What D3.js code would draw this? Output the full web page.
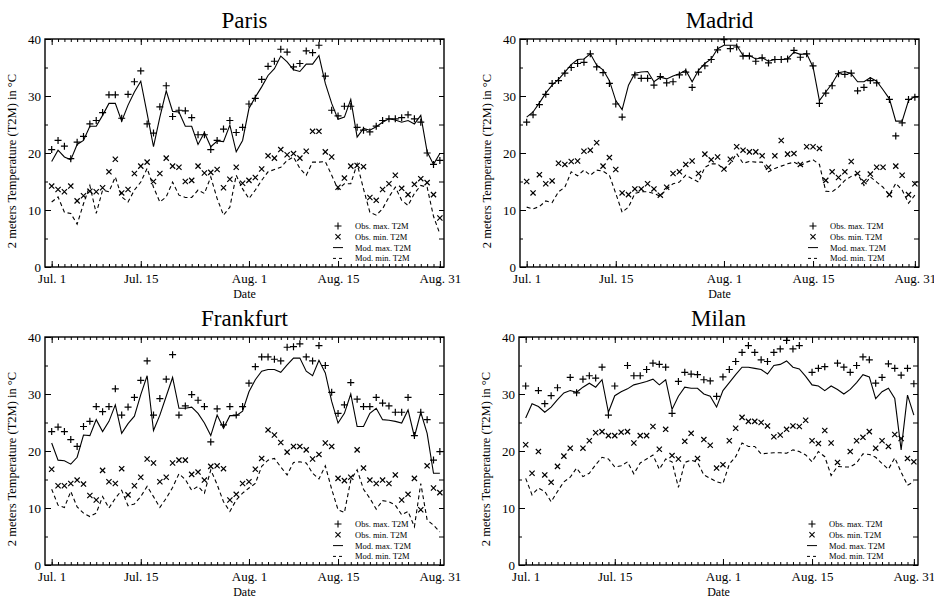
<!DOCTYPE html>
<html>
<head>
<meta charset="utf-8">
<script src="https://cdn.jsdelivr.net/npm/d3@7"></script>
<style>
  body { margin: 0; background: #fff; }
  text { font-family: "Liberation Serif", "Times New Roman", serif; fill: #000; }
</style>
</head>
<body>
<svg id="chart" width="934" height="598" font-family="Liberation Serif, serif"></svg>
<script>
// ---- data, one value per day, Jul 1 .. Aug 31 ----
const cities = ["Paris", "Madrid", "Frankfurt", "Milan"];
const tickDays = [0, 14, 31, 45, 61];
const tickLabels = ["Jul. 1", "Jul. 15", "Aug. 1", "Aug. 15", "Aug. 31"];
const tempTicks = [0, 10, 20, 30, 40];
const legendLabels = ["Obs. max. T2M", "Obs. min. T2M", "Mod. max. T2M", "Mod. min. T2M"];

const parisObsMax = [20.6, 22.2, 21.2, 19.0, 21.9, 22.9, 25.1, 25.7, 27.1, 30.2, 30.2, 26.1, 30.3, 32.5, 34.4, 25.1, 23.5, 28.1, 31.8, 26.4,
  27.5, 27.4, 26.2, 23.2, 23.2, 20.6, 22.2, 24.2, 25.7, 23.6, 24.5, 28.6, 29.6, 32.9, 35.2, 36.1, 38.2, 37.7, 35.1, 35.7,
  37.9, 37.6, 38.9, 33.5, 27.5, 26.5, 28.2, 28.2, 24.5, 24.0, 23.7, 24.7, 25.7, 26.0, 26.0, 26.2, 26.7, 26.0, 25.4, 20.0,
  18.0, 18.7];
const parisObsMin = [14.2, 13.6, 13.2, 14.2, 11.6, 12.5, 13.3, 13.2, 13.9, 16.7, 18.9, 13.0, 13.6, 16.4, 17.7, 18.4, 15.0, 16.4, 19.1, 17.7,
  17.5, 15.0, 15.2, 17.7, 16.5, 16.6, 17.1, 13.9, 15.4, 17.5, 14.7, 15.2, 15.7, 17.2, 19.5, 19.1, 20.6, 19.7, 19.9, 19.1,
  20.3, 23.8, 23.8, 20.2, 19.3, 14.0, 15.6, 17.7, 17.8, 17.6, 12.2, 11.7, 13.6, 14.6, 16.1, 13.8, 12.7, 14.5, 15.5, 14.8,
  12.7, 8.6];
const parisModMax = [18.5, 20.5, 19.3, 18.8, 21.5, 22.2, 24.7, 24.7, 26.6, 28.7, 28.7, 25.6, 28.4, 30.7, 32.6, 26.9, 21.1, 26.3, 30.9, 27.3,
  27.2, 24.7, 24.7, 21.5, 23.6, 21.1, 22.1, 22.0, 24.9, 20.2, 22.2, 27.8, 29.8, 31.6, 33.6, 34.8, 37.0, 36.0, 34.6, 34.3,
  35.6, 35.6, 37.1, 32.2, 28.7, 25.9, 26.3, 29.4, 22.8, 24.3, 24.0, 24.6, 25.4, 26.0, 25.8, 25.4, 25.7, 25.1, 26.6, 20.2,
  18.0, 19.9];
const parisModMin = [11.4, 12.3, 9.6, 9.4, 7.5, 11.1, 14.3, 9.4, 13.5, 13.2, 15.8, 12.3, 11.4, 13.5, 14.9, 17.3, 14.0, 11.4, 12.3, 14.9,
  12.6, 12.2, 12.2, 13.5, 12.9, 15.8, 12.0, 9.1, 10.5, 16.1, 13.7, 12.0, 13.5, 15.2, 16.7, 17.1, 17.5, 18.7, 19.3, 17.3,
  16.1, 18.4, 18.4, 18.5, 16.1, 13.6, 14.6, 14.6, 18.1, 13.7, 9.6, 9.1, 10.2, 12.3, 14.0, 11.7, 10.8, 12.9, 14.3, 14.0,
  8.9, 5.8];

const madridObsMax = [25.4, 26.7, 28.5, 30.3, 32.2, 32.7, 34.0, 35.0, 35.7, 35.9, 37.4, 35.1, 34.1, 32.2, 28.6, 26.3, null, 33.7, 33.1, 33.1,
  31.9, 33.4, 32.3, 32.5, 33.7, 34.2, 31.5, 34.2, 35.3, 36.4, 38.1, 39.9, 38.3, 38.6, 37.0, 37.0, 36.1, 36.7, 35.8, 36.4,
  36.4, 36.5, 38.0, 36.8, 37.4, 35.3, 28.7, 30.5, 31.8, 33.9, 33.8, 34.0, 30.9, 31.5, 32.7, 32.3, null, 29.4, 23.0, 25.3,
  29.4, 29.8];
const madridObsMin = [15.0, 13.0, 16.2, 14.6, 15.1, 18.2, 18.0, 18.5, 18.6, 20.3, 20.5, 21.8, 17.7, 19.2, 17.1, 13.0, 12.7, 13.7, 13.7, 14.6,
  13.7, 12.6, 14.0, 16.4, 16.7, 18.0, 18.6, 16.4, 19.8, 18.8, 19.3, 17.2, 18.9, 21.1, 20.5, 20.2, 20.2, 19.5, 17.5, 19.5,
  22.2, 19.8, 19.9, 18.0, 21.1, 21.1, 20.8, 15.2, 16.7, 15.7, 16.7, 18.5, 16.4, 15.0, 16.3, 17.5, 17.5, 12.7, 17.7, 16.1,
  12.7, 14.6];
const madridModMax = [26.3, 27.2, 28.8, 30.5, 31.9, 32.9, 34.2, 35.5, 36.4, 36.5, 37.4, 35.4, 34.6, 32.7, 29.2, 27.6, 31.9, 34.0, 34.2, 34.3,
  32.5, 33.3, 33.0, 33.5, 33.9, 34.5, 32.5, 34.5, 35.7, 36.5, 38.3, 38.9, 38.9, 38.9, 37.1, 37.1, 36.5, 36.7, 36.1, 36.4,
  36.4, 36.5, 37.7, 37.3, 37.4, 35.1, 29.2, 30.7, 32.2, 34.1, 34.3, 33.9, 32.5, 32.5, 33.2, 32.6, 31.1, 29.5, 25.6, 25.6,
  29.2, 29.9];
const madridModMin = [10.5, 10.2, 10.6, 11.6, 11.3, 13.2, 14.0, 16.7, 16.0, 17.0, 16.1, 17.0, 16.8, 16.1, 12.9, 9.6, 10.5, 12.9, 13.2, 13.2,
  12.9, 12.4, 13.7, 14.6, 14.9, 16.1, 15.5, 14.9, 17.5, 18.1, 18.1, 17.1, 18.2, 19.9, 18.2, 18.5, 18.4, 18.4, 16.7, 17.3,
  17.7, 18.1, 18.4, 17.8, 18.4, 18.8, 18.0, 13.3, 13.2, 14.0, 15.2, 15.9, 16.4, 14.3, 15.8, 14.9, 14.0, 12.6, 14.7, 13.5,
  11.2, 12.6];

const frankfurtObsMax = [23.4, 24.2, 23.4, 22.0, 20.8, 24.3, 25.2, 27.8, 26.9, 27.8, 30.9, 26.3, 27.7, 29.4, 32.4, 35.8, 26.3, 29.2, 32.6, 36.9,
  26.3, 27.9, 29.9, 28.9, 27.8, 21.6, 27.4, 24.6, 27.8, 26.3, 27.8, 31.9, 34.8, 36.5, 36.5, 36.1, 35.8, 38.2, 38.3, 38.8,
  36.5, 35.8, 38.5, 35.0, 30.3, 26.6, 28.1, 32.0, 29.1, 27.8, 27.8, 29.4, 28.4, 27.9, 26.8, 26.8, 29.4, 22.7, 26.8, 25.5,
  18.4, 19.9];
const frankfurtObsMin = [16.8, 13.9, 13.9, 14.3, 14.9, 14.2, 12.2, 11.4, 16.6, 14.6, 14.3, 16.9, 12.3, 13.9, 15.4, 18.6, 17.9, 14.6, 15.4, 17.9,
  18.4, 18.4, 15.9, 16.3, 14.9, 17.3, 17.4, 16.9, 11.4, 12.4, 14.3, 14.6, 16.8, 18.7, 23.7, 22.8, 21.5, 19.8, 20.8, 20.8,
  20.2, 18.6, 19.4, 21.4, 20.8, 15.2, 14.8, 15.4, 20.2, 17.0, 14.9, 14.3, 14.9, 14.3, 15.8, 11.4, 12.4, 15.2, 9.7, 17.4,
  13.5, 12.7];
const frankfurtModMax = [21.4, 18.4, 18.3, 17.7, 18.9, 22.8, 22.7, 25.5, 23.4, 25.2, 28.1, 23.1, 24.8, 26.1, 29.9, 33.2, 23.6, 26.3, 29.6, 32.9,
  27.5, 27.5, 27.7, 26.6, 24.9, 22.7, 26.3, 24.0, 26.2, 26.2, 27.0, 30.4, 32.5, 34.0, 34.3, 34.3, 33.8, 35.1, 36.3, 36.3,
  34.0, 33.2, 35.9, 33.7, 28.7, 24.9, 26.6, 30.0, 24.3, 24.3, 26.6, 27.5, 25.5, 25.4, 25.2, 24.9, 27.2, 22.5, 26.8, 23.1,
  16.1, 16.1];
const frankfurtModMin = [13.3, 10.5, 10.1, 12.9, 10.2, 9.1, 8.5, 9.1, 12.0, 10.0, 11.7, 13.1, 10.4, 10.7, 12.0, 13.8, 12.0, 10.1, 11.7, 13.6,
  16.0, 15.0, 13.1, 13.8, 12.6, 16.7, 14.1, 11.1, 9.4, 11.4, 12.6, 13.5, 14.3, 17.3, 18.4, 18.7, 17.2, 15.8, 18.0, 18.1,
  17.9, 16.1, 15.1, 17.4, 13.3, 9.7, 9.2, 14.9, 16.7, 13.3, 11.7, 9.8, 11.3, 11.1, 10.5, 8.8, 9.4, 6.7, 14.3, 7.9,
  7.0, 5.8];

const milanObsMax = [31.4, null, 30.6, 28.3, 29.7, 31.1, null, 32.9, 30.2, 32.6, 33.2, 32.8, 34.7, 26.3, 31.4, null, 35.0, 33.2, 33.2, 34.3,
  35.4, 35.2, 34.7, 26.6, 32.2, 33.8, 33.5, 33.4, 32.5, 32.3, 29.6, 33.0, 34.3, 35.7, 37.3, 38.5, 37.3, 36.0, 35.7, 37.3,
  37.9, 39.4, 37.9, 38.5, null, 33.8, 34.5, 34.8, null, 35.4, 34.7, 33.8, 35.0, 36.5, 36.0, 31.9, 32.9, 35.3, 34.5, 33.3,
  34.5, 31.8];
const milanObsMin = [21.1, 16.1, 19.9, 15.8, 14.5, 17.3, 19.1, 20.5, null, 20.5, 21.8, 23.2, 23.4, 22.7, 22.7, 23.3, 23.4, 21.4, 22.7, 22.7,
  24.3, 20.3, 23.8, 19.2, 18.6, 21.7, 23.1, 18.7, 22.0, 21.0, 17.0, 17.6, 21.8, 24.0, 25.9, 25.2, 25.2, 25.0, 24.4, 22.5,
  22.8, 23.8, 24.4, 24.3, 25.4, 21.8, 21.3, 23.6, 21.4, 18.0, null, 19.9, 21.8, 22.4, 23.4, 20.5, 21.8, 20.8, 22.9, 22.2,
  18.7, 18.1];
const milanModMax = [25.8, 28.3, 27.8, 26.8, 27.7, 29.0, 30.2, 30.6, 30.3, 31.2, 31.9, 31.2, 32.5, 26.8, 29.7, 30.4, 30.9, 31.6, 31.9, 32.2,
  32.6, 31.6, 32.5, 27.3, 29.6, 31.2, 31.0, 31.0, 30.0, 29.6, 27.7, 30.6, 32.0, 33.4, 34.7, 34.7, 34.5, 34.3, 33.5, 35.0,
  35.2, 35.8, 34.7, 34.4, 33.1, 31.6, 31.4, 30.6, 31.4, 30.8, 30.0, 30.8, 32.0, 33.4, 33.0, 29.2, 30.4, 31.0, 29.2, 20.2,
  29.8, 26.3];
const milanModMin = [15.2, 12.3, 13.5, 12.9, 11.1, 12.9, 14.6, 15.4, 17.0, 15.5, 16.1, 17.6, 18.9, 18.6, 17.2, 17.4, 18.1, 16.0, 17.9, 18.6,
  19.3, 16.8, 18.6, 18.1, 13.6, 18.0, 18.4, 18.0, 15.8, 15.2, 14.6, 14.3, 17.7, 19.0, 21.4, 20.8, 20.8, 19.5, 19.6, 19.7,
  19.7, 19.6, 20.2, 19.9, 19.3, 18.1, 19.9, 19.0, 15.7, 17.3, 17.2, 17.2, 17.9, 19.5, 19.4, 18.9, 17.8, 16.8, 18.8, 16.3,
  14.0, 14.6];

const panels = [
  { name: cities[0], obsMax: parisObsMax, obsMin: parisObsMin, modMax: parisModMax, modMin: parisModMin },
  { name: cities[1], obsMax: madridObsMax, obsMin: madridObsMin, modMax: madridModMax, modMin: madridModMin },
  { name: cities[2], obsMax: frankfurtObsMax, obsMin: frankfurtObsMin, modMax: frankfurtModMax, modMin: frankfurtModMin },
  { name: cities[3], obsMax: milanObsMax, obsMin: milanObsMin, modMax: milanModMax, modMin: milanModMin }
];

// ---- layout ----
const W = 399, H = 228;
const origins = [[45, 39], [520, 39], [45, 337], [519, 337]];
const days = d3.range(62);
const serif = "'Liberation Serif', 'Times New Roman', serif";

const svg = d3.select("#chart");
const x = d3.scaleLinear().domain([-1.05, 61.65]).range([0, W]);
const y = d3.scaleLinear().domain([0, 40]).range([H, 0]);

const plusPath = "M-3.5,0H3.5M0,-3.5V3.5";
const crossPath = "M-2.6,-2.6L2.6,2.6M-2.6,2.6L2.6,-2.6";

function lineFor(values) {
  return d3.line()
    .defined(d => d != null)
    .x((d, i) => x(i))
    .y(d => y(d))(values);
}

function styleAxis(sel) {
  sel.attr("font-family", null);
  sel.select(".domain").remove();
  sel.selectAll(".tick line").attr("stroke", "#000").attr("stroke-width", 1);
  sel.selectAll(".tick text")
    .style("font-family", serif)
    .style("font-size", "13px")
    .attr("fill", "#000");
}

panels.forEach((p, i) => {
  const g = svg.append("g").attr("transform", `translate(${origins[i][0]},${origins[i][1]})`);

  // minor day ticks on bottom and top
  g.append("g").attr("transform", `translate(0,${H})`)
    .call(d3.axisBottom(x).tickValues(days).tickSize(-3).tickFormat(""))
    .call(styleAxis);
  g.append("g")
    .call(d3.axisTop(x).tickValues(days).tickSize(-3).tickFormat(""))
    .call(styleAxis);

  // major date ticks
  g.append("g").attr("transform", `translate(0,${H})`)
    .call(d3.axisBottom(x).tickValues(tickDays).tickSize(-6).tickPadding(7)
      .tickFormat((d, k) => tickLabels[k]))
    .call(styleAxis);
  g.append("g")
    .call(d3.axisTop(x).tickValues(tickDays).tickSize(-6).tickFormat(""))
    .call(styleAxis);

  // temperature ticks left / right (with half-step minor ticks)
  g.append("g")
    .call(d3.axisLeft(y).tickValues(tempTicks).tickSize(-6).tickPadding(4))
    .call(styleAxis);
  g.append("g")
    .call(d3.axisLeft(y).tickValues(d3.range(5, 40, 10)).tickSize(-3).tickFormat(""))
    .call(styleAxis);
  g.append("g").attr("transform", `translate(${W},0)`)
    .call(d3.axisRight(y).tickValues(d3.range(0, 41, 5)).tickSize(-5).tickFormat(""))
    .call(styleAxis);

  // frame
  g.append("rect")
    .attr("width", W).attr("height", H)
    .attr("fill", "none").attr("stroke", "#000").attr("stroke-width", 1.4);

  // model lines
  g.append("path")
    .attr("d", lineFor(p.modMax))
    .attr("fill", "none").attr("stroke", "#000").attr("stroke-width", 1.1);
  g.append("path")
    .attr("d", lineFor(p.modMin))
    .attr("fill", "none").attr("stroke", "#000").attr("stroke-width", 1.1)
    .attr("stroke-dasharray", "4,3");

  // observations
  g.append("g").selectAll("path")
    .data(p.obsMax.map((v, k) => [k, v]).filter(d => d[1] != null))
    .join("path")
    .attr("transform", d => `translate(${x(d[0])},${y(d[1])})`)
    .attr("d", plusPath)
    .attr("stroke", "#000").attr("stroke-width", 1.2).attr("fill", "none");
  g.append("g").selectAll("path")
    .data(p.obsMin.map((v, k) => [k, v]).filter(d => d[1] != null))
    .join("path")
    .attr("transform", d => `translate(${x(d[0])},${y(d[1])})`)
    .attr("d", crossPath)
    .attr("stroke", "#000").attr("stroke-width", 1.2).attr("fill", "none");

  // title and axis labels
  g.append("text")
    .attr("x", W / 2).attr("y", -11)
    .attr("text-anchor", "middle")
    .style("font-family", serif)
    .style("font-size", "23px")
    .text(p.name);
  g.append("text")
    .attr("x", W / 2).attr("y", H + 31)
    .attr("text-anchor", "middle")
    .style("font-family", serif)
    .style("font-size", "12px")
    .text("Date");
  g.append("text")
    .attr("transform", `translate(-29,${H / 2 + 8}) rotate(-90)`)
    .attr("text-anchor", "middle")
    .style("font-family", serif)
    .style("font-size", "12.5px")
    .text("2 meters Temperature (T2M) in \u00B0C");

  // legend
  const lg = g.append("g").attr("transform", "translate(293,187)");
  legendLabels.forEach((lab, k) => {
    const row = lg.append("g").attr("transform", `translate(0,${k * 10.8})`);
    if (k === 0) row.append("path").attr("d", plusPath).attr("stroke", "#000").attr("stroke-width", 1.1);
    if (k === 1) row.append("path").attr("d", crossPath).attr("stroke", "#000").attr("stroke-width", 1.1);
    if (k === 2) row.append("line").attr("x1", -5).attr("x2", 5).attr("stroke", "#000").attr("stroke-width", 1);
    if (k === 3) row.append("line").attr("x1", -5).attr("x2", 6).attr("stroke", "#000").attr("stroke-width", 1)
      .attr("stroke-dasharray", "3,3");
    row.append("text")
      .attr("x", 17).attr("y", 3)
      .style("font-family", serif)
      .style("font-size", "8.5px")
      .attr("fill", "#222")
      .text(lab);
  });
});
</script>
</body>
</html>
